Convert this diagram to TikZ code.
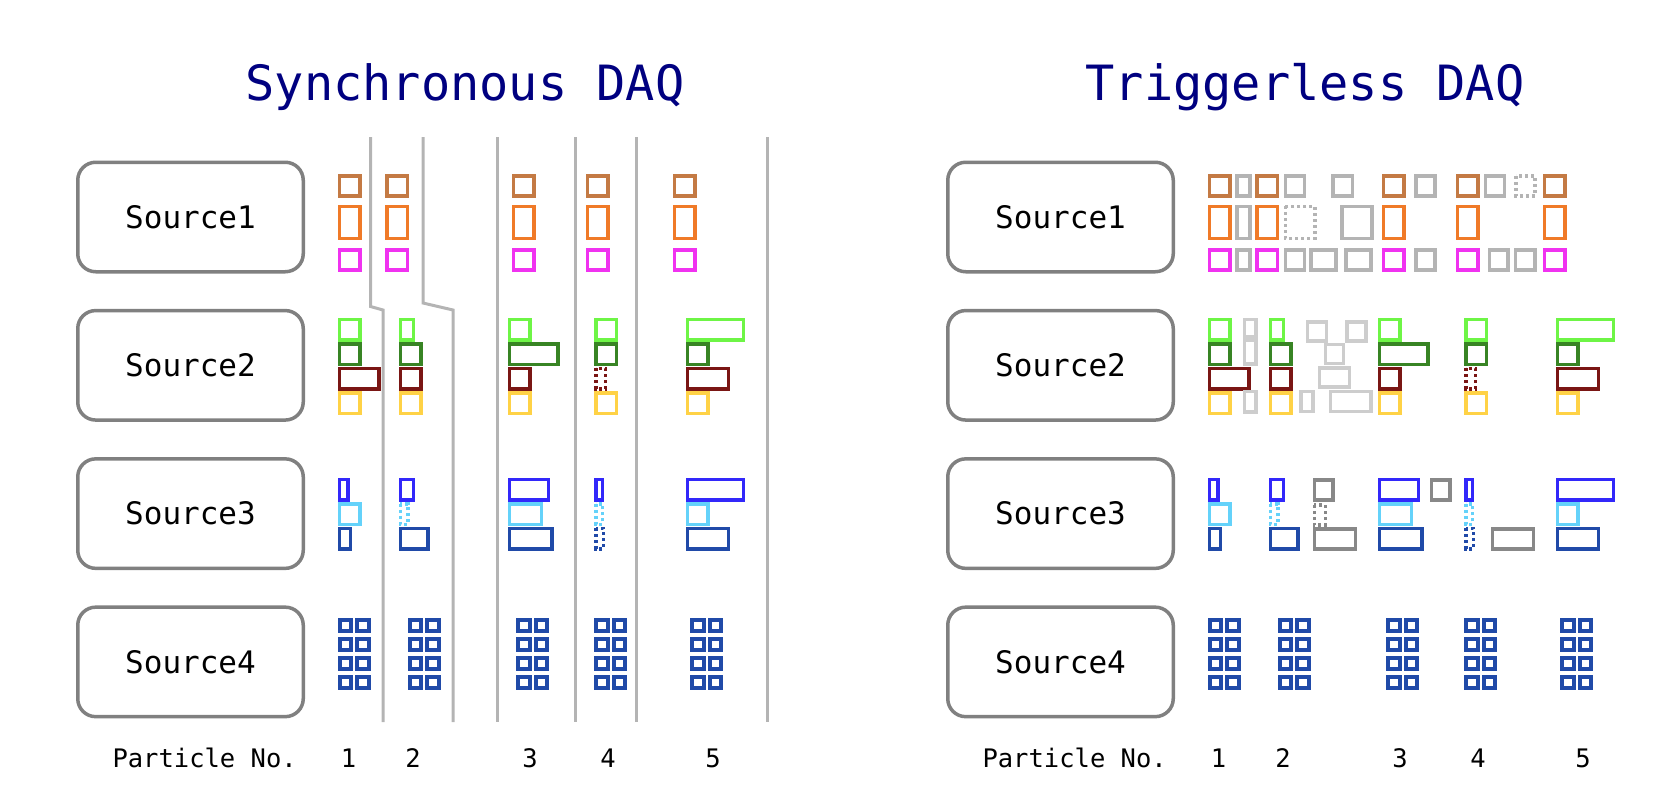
\documentclass[tikz,border=0pt]{standalone}
\usepackage{fontspec}
\setmainfont{DejaVu Sans Mono}
\usepackage{tikz}
\usetikzlibrary{positioning}

\definecolor{cbrown}{RGB}{196,122,68}
\definecolor{corange}{RGB}{240,122,40}
\definecolor{cmagenta}{RGB}{240,50,240}
\definecolor{clgreen}{RGB}{110,245,70}
\definecolor{cdgreen}{RGB}{56,132,36}
\definecolor{cdred}{RGB}{122,22,20}
\definecolor{cyellow}{RGB}{255,210,70}
\definecolor{cblue}{RGB}{50,40,250}
\definecolor{clblue}{RGB}{100,210,250}
\definecolor{cdblue}{RGB}{32,74,168}
\definecolor{gone}{RGB}{180,180,180}
\definecolor{gtwo}{RGB}{205,205,205}
\definecolor{gthree}{RGB}{136,136,136}
\definecolor{sepgray}{RGB}{180,180,180}
\definecolor{srcgray}{RGB}{128,128,128}
\definecolor{titleblue}{RGB}{0,0,128}

% fragment box from its outer edge: colour/style, x, y, width, height
\newcommand{\frag}[5]{\draw[frag,#1] ({#2+1.75},{#3+1.75}) rectangle ({#2+#4-1.75},{#3+#5-1.75});}
% pixel readout of source 4
\newcommand{\pixgrid}[1]{%
  \foreach \i in {0,1}
    \foreach \j in {0,...,3}
      \draw[pix] ({#1+\i*17.7+2},{618.3+\j*18.9+2}) rectangle ({#1+\i*17.7+13.5},{618.3+\j*18.9+12.5});}

% the five particles, as the synchronous DAQ sees them
\newcommand{\fragments}{%
  % source 1
  \foreach \c in {337.5,385,511.5,585.5,672.5}{
    \frag{cbrown}{\c}{174}{24}{23.5}
    \frag{corange}{\c}{204.5}{24}{35.5}
    \frag{cmagenta}{\c}{248}{24}{23.5}
  }
  % source 2
  \frag{clgreen}{337.5}{317.5}{24}{24}
  \frag{cdgreen}{337.5}{342}{24}{24}
  \frag{cdred}{337.5}{366.5}{43}{24}
  \frag{cyellow}{337.5}{391}{24}{24}
  \frag{clgreen}{398.5}{317.5}{16.5}{24}
  \frag{cdgreen}{398.5}{342}{24}{24}
  \frag{cdred}{398.5}{366.5}{24}{24}
  \frag{cyellow}{398.5}{391}{24}{24}
  \frag{clgreen}{507.5}{317.5}{24}{24}
  \frag{cdgreen}{507.5}{342}{52}{24}
  \frag{cdred}{507.5}{366.5}{24}{24}
  \frag{cyellow}{507.5}{391}{24}{24}
  \frag{clgreen}{594}{317.5}{24}{24}
  \frag{cdgreen}{594}{342}{24}{24}
  \frag{cdred,lostfrag}{594}{366.5}{13}{24}
  \frag{cyellow}{594}{391}{24}{24}
  \frag{clgreen}{685.5}{317.5}{59.5}{24}
  \frag{cdgreen}{685.5}{342}{24}{24}
  \frag{cdred}{685.5}{366.5}{44.5}{24}
  \frag{cyellow}{685.5}{391}{24}{24}
  % source 3
  \frag{cblue}{337.5}{477.5}{12}{24}
  \frag{clblue}{337.5}{502}{24}{24}
  \frag{cdblue}{337.5}{526.5}{14.5}{24}
  \frag{cblue}{398.5}{477.5}{16.5}{24}
  \frag{clblue,lostfrag}{398.5}{502}{11}{24}
  \frag{cdblue}{398.5}{526.5}{31}{24}
  \frag{cblue}{507.5}{477.5}{42.5}{24}
  \frag{clblue}{507.5}{502}{35.5}{24}
  \frag{cdblue}{507.5}{526.5}{46}{24}
  \frag{cblue}{594}{477.5}{10}{24}
  \frag{clblue,lostfrag}{594}{502}{10}{24}
  \frag{cdblue,lostfrag}{594}{526.5}{11}{24}
  \frag{cblue}{685.5}{477.5}{59.5}{24}
  \frag{clblue}{685.5}{502}{24}{24}
  \frag{cdblue}{685.5}{526.5}{44.5}{24}
  % source 4
  \foreach \c in {337.5,407.5,516,594,690}{\pixgrid{\c}}
}

\begin{document}
\begin{tikzpicture}[x=1pt,y=-1pt,
  src/.style={draw=srcgray,line width=3.5pt,rounded corners=18pt,
    minimum width=225.5pt,minimum height=109.5pt,
    font=\fontsize{31}{36}\selectfont},
  title/.style={text=titleblue,font=\fontsize{48.6}{58}\selectfont,anchor=base},
  plabel/.style={font=\fontsize{25.5}{30}\selectfont,anchor=base},
  frag/.style={line width=3.5pt},
  lostfrag/.style={dash pattern=on 3pt off 3pt},
  pix/.style={cdblue,line width=4pt},
  sep/.style={sepgray,line width=3pt}]
\useasboundingbox (0,0) rectangle (1656,804);

% titles
\node[title] (synch) at (465,100) {Synchronous DAQ};
\node[title] (trigless) at (1305,100) {Triggerless DAQ};

% sources, left
\node[src] (s1l) at (190.5,217) {Source1};
\node[src, below=35.3pt of s1l] (s2l) {Source2};
\node[src, below=35.3pt of s2l] (s3l) {Source3};
\node[src, below=35.3pt of s3l] (s4l) {Source4};
% sources, right
\node[src] (s1r) at (1060.5,217) {Source1};
\node[src, below=35.3pt of s1r] (s2r) {Source2};
\node[src, below=35.3pt of s2r] (s3r) {Source3};
\node[src, below=35.3pt of s3r] (s4r) {Source4};

% event boundaries
\draw[sep] (370.5,137) -- (370.5,306.5) -- (383,310) -- (383,722);
\draw[sep] (423,137) -- (423,303) -- (453,310) -- (453,722);
\foreach \x in {497,575.5,636,767}
  \draw[sep] (\x,137) -- (\x,722);

\fragments
\begin{scope}[xshift=870pt]
\fragments
\end{scope}

% noise hits, triggerless side
\frag{gone}{1235}{174}{16.5}{23.5}
\frag{gone}{1283.5}{174}{22.5}{23.5}
\frag{gone}{1331}{174}{23}{23.5}
\frag{gone}{1414}{174}{22.5}{23.5}
\frag{gone}{1483.5}{174}{22.5}{23.5}
\frag{gone,lostfrag}{1514}{174}{22.5}{23.5}
\frag{gone}{1235}{204.5}{16.5}{35.5}
\frag{gone,lostfrag}{1283.5}{204.5}{33}{35.5}
\frag{gone}{1340}{204.5}{33.5}{35.5}
\frag{gone}{1235}{248}{16.5}{23.5}
\frag{gone}{1283.5}{248}{22.5}{23.5}
\frag{gone}{1309}{248}{28.5}{23.5}
\frag{gone}{1344}{248}{28.5}{23.5}
\frag{gone}{1414}{248}{22.5}{23.5}
\frag{gone}{1487.5}{248}{22}{23.5}
\frag{gone}{1513.5}{248}{23}{23.5}

\frag{gtwo}{1242.5}{317.5}{15}{21}
\frag{gtwo}{1242.5}{338.5}{15}{27}
\frag{gtwo}{1242.5}{389.5}{15}{24}
\frag{gtwo}{1305.5}{320}{22.5}{22.5}
\frag{gtwo}{1345}{320}{22.5}{22.5}
\frag{gtwo}{1323.5}{342.5}{21.5}{22.5}
\frag{gtwo}{1317.5}{366}{33.5}{22.5}
\frag{gtwo}{1299}{389.5}{15.5}{23.5}
\frag{gtwo}{1328.5}{389.5}{44}{23.5}

\frag{gthree}{1312.5}{478}{22}{23.5}
\frag{gthree,lostfrag}{1312.5}{503}{14.5}{23.5}
\frag{gthree}{1312.5}{527}{44.5}{23.5}
\frag{gthree}{1429.5}{478}{22}{23.5}
\frag{gthree}{1490.5}{527}{44.5}{23.5}

% particle numbers
\node[plabel, anchor=base west] (pnl) at (109,767) {Particle No.};
\node[plabel, anchor=base west] (pnr) at (979,767) {Particle No.};
\foreach \n/\x in {1/348.5,2/413,3/530,4/608,5/713}{
  \node[plabel] (p\n l) at (\x,767) {\n};
  \node[plabel] (p\n r) at (\x+870,767) {\n};
}
\end{tikzpicture}
\end{document}
